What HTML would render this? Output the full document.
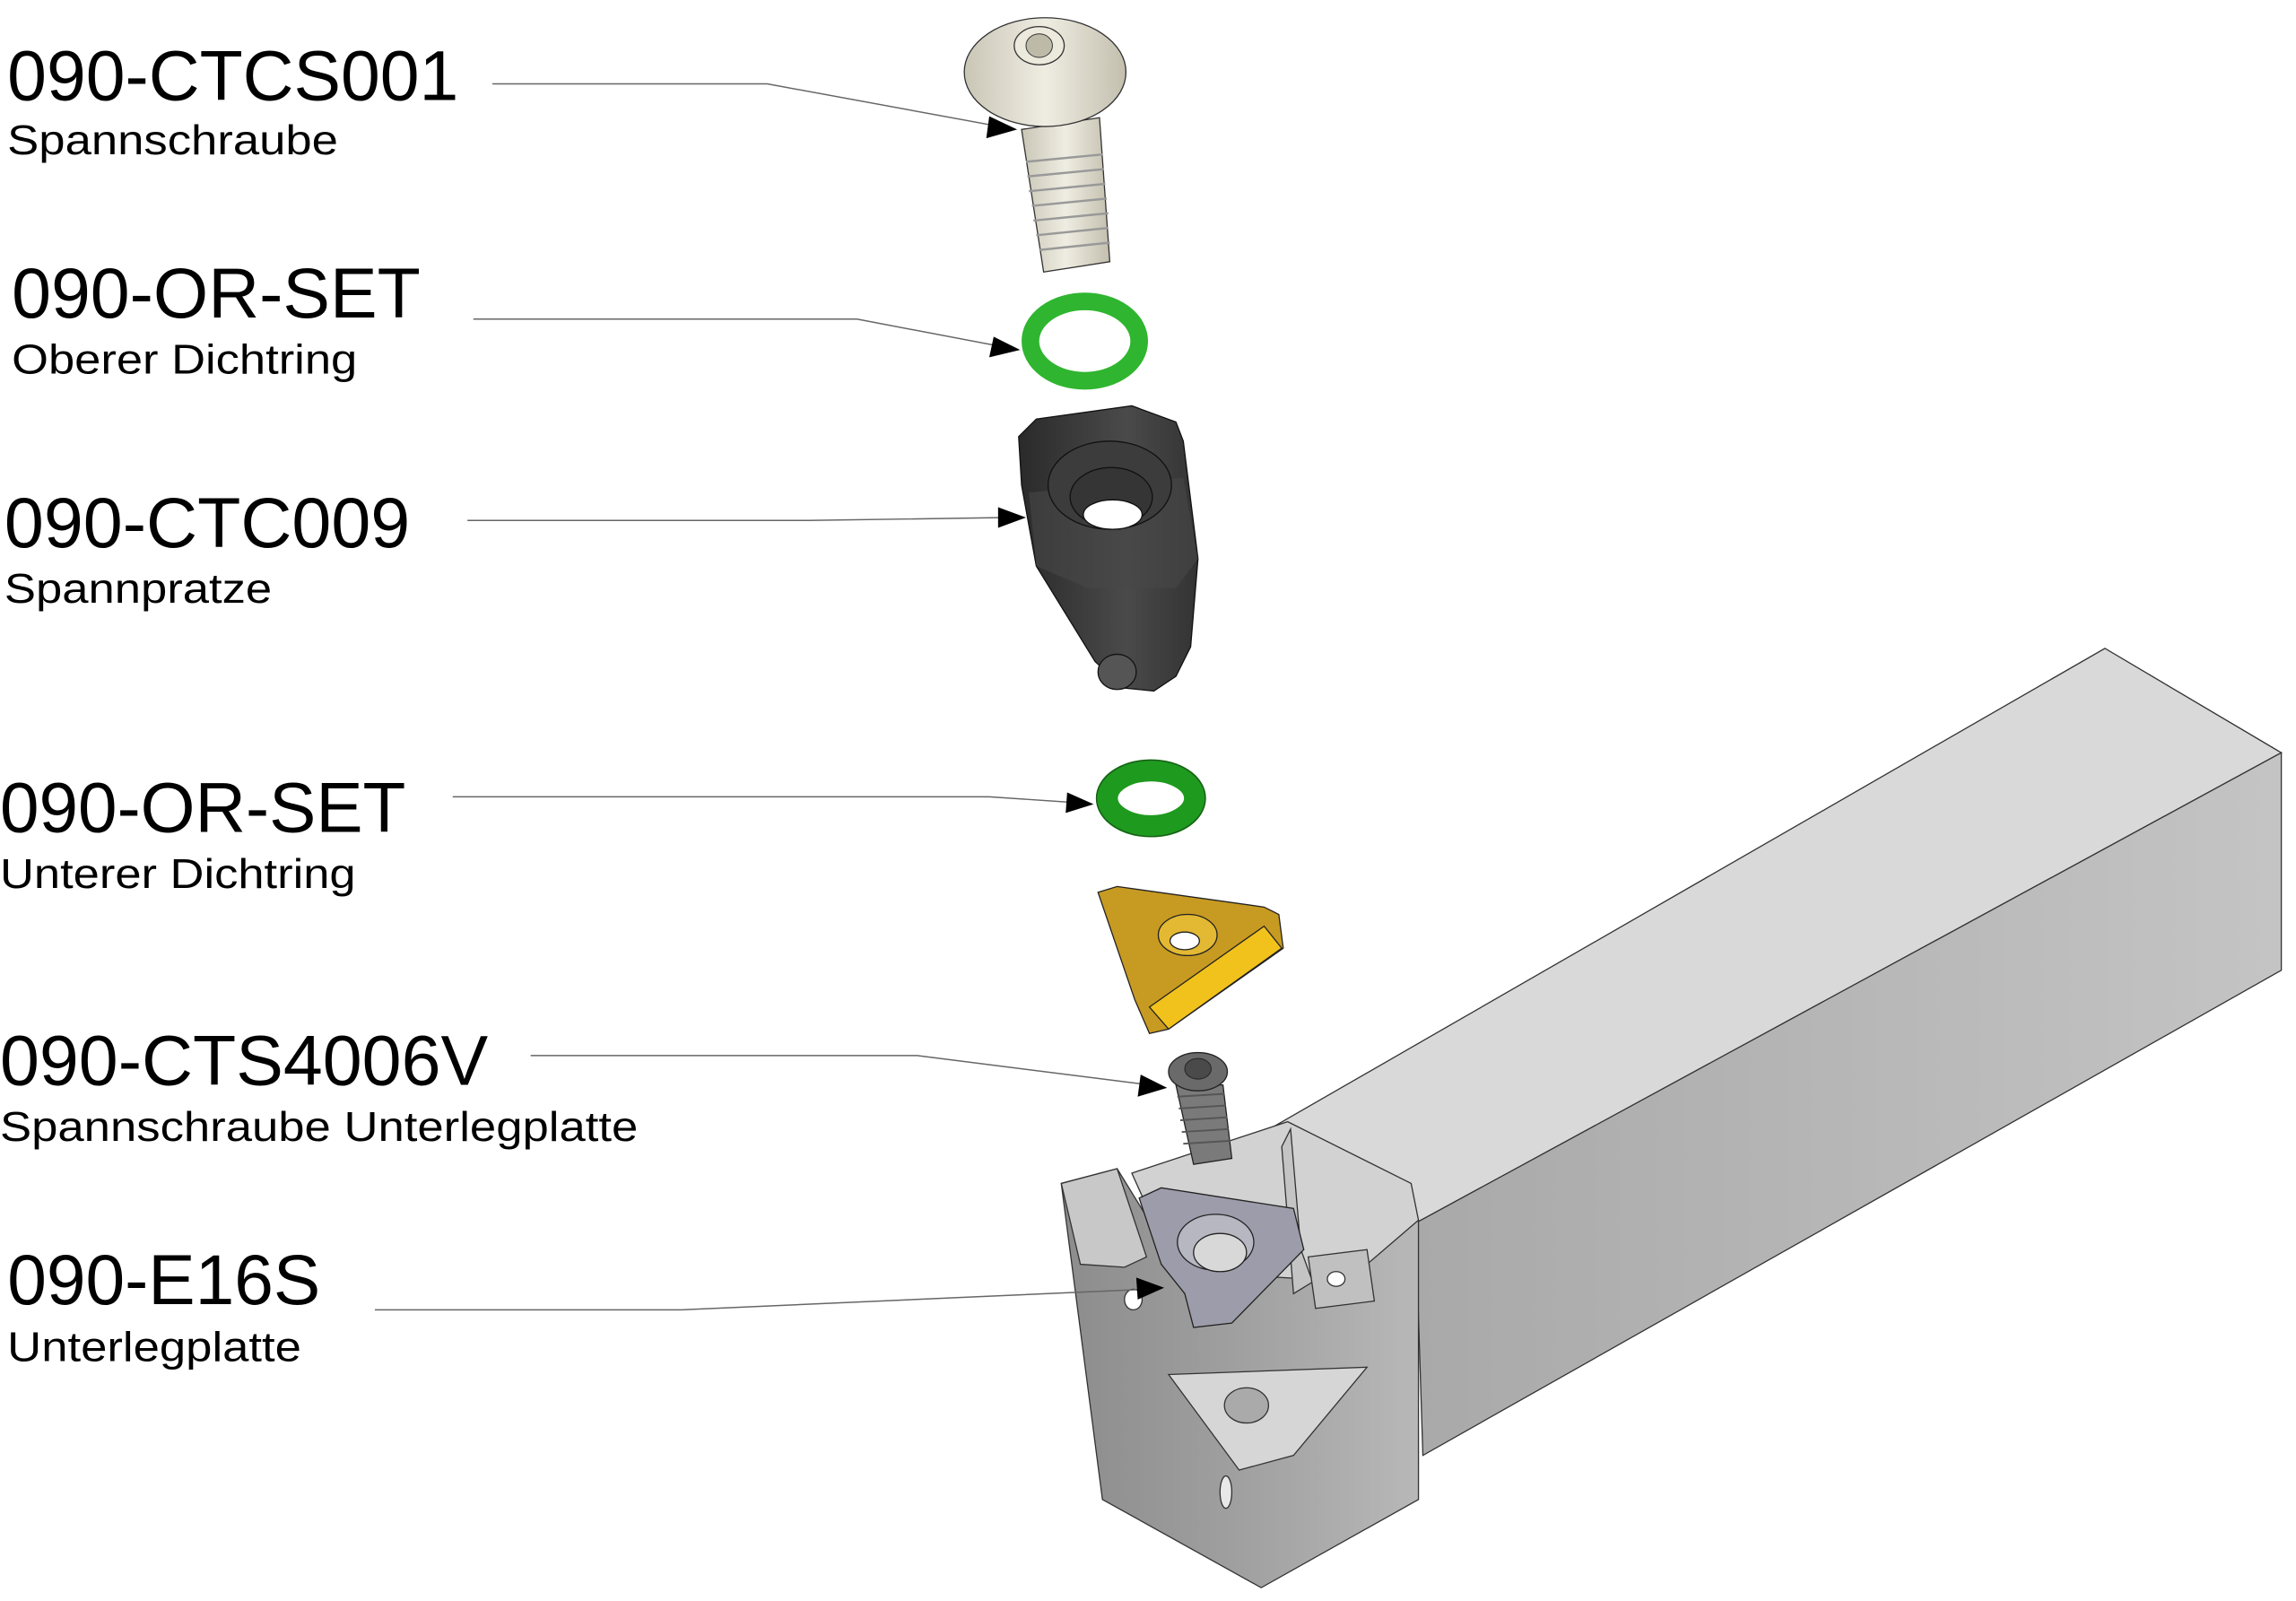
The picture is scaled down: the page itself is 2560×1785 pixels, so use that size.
<!DOCTYPE html>
<html><head><meta charset="utf-8"><style>
html,body{margin:0;padding:0;background:#fff;}
svg{display:block;}
text{font-family:"Liberation Sans",sans-serif;fill:#000;}
</style></head><body>
<svg width="2560" height="1785" viewBox="0 0 1562 1089" xmlns="http://www.w3.org/2000/svg">
<defs>
<linearGradient id="side" x1="0" y1="0" x2="1" y2="0"><stop offset="0" stop-color="#a9a9a9"/><stop offset="1" stop-color="#c4c4c4"/></linearGradient>
<linearGradient id="hold" x1="0" y1="0" x2="1" y2="0"><stop offset="0" stop-color="#8c8c8c"/><stop offset="0.5" stop-color="#a0a0a0"/><stop offset="1" stop-color="#b8b8b8"/></linearGradient>
<linearGradient id="beige" x1="0" y1="0" x2="1" y2="0"><stop offset="0" stop-color="#c9c6b6"/><stop offset="0.5" stop-color="#efede2"/><stop offset="1" stop-color="#c2bfae"/></linearGradient>
<linearGradient id="dark" x1="0" y1="0" x2="1" y2="0"><stop offset="0" stop-color="#2a2a2a"/><stop offset="0.6" stop-color="#4a4a4a"/><stop offset="1" stop-color="#333"/></linearGradient>
</defs>

<!-- bar -->
<polygon points="848,777 1432,441 1552,512 963,832" fill="#d9d9d9" stroke="#333" stroke-width="0.8"/>
<polygon points="963,832 1552,512 1552,660 968,990" fill="url(#side)" stroke="#333" stroke-width="0.8"/>

<!-- holder head -->
<polygon points="722,805 760,795 800,860 930,845 960,828 965,830 965,1020 858,1080 750,1020" fill="url(#hold)" stroke="#333" stroke-width="0.8"/>
<polygon points="770,798 876,763 960,805 965,830 930,860 890,870 800,865" fill="#d2d2d2" stroke="#333" stroke-width="0.8"/>
<polygon points="722,805 760,795 780,855 765,862 735,860" fill="#c8c8c8" stroke="#333" stroke-width="0.8"/>
<polygon points="795,935 930,930 880,990 843,1000" fill="#d6d6d6" stroke="#333" stroke-width="0.8"/>
<polygon points="872,780 878,768 885,850 893,872 880,880" fill="#c4c4c4" stroke="#333" stroke-width="0.8"/>
<polygon points="890,855 930,850 935,885 895,890" fill="#c0c0c0" stroke="#333" stroke-width="0.8"/>
<ellipse cx="909" cy="870" rx="6" ry="5" fill="#fff" stroke="#333" stroke-width="0.8"/>
<ellipse cx="771" cy="884" rx="6" ry="7" fill="#fff" stroke="#333" stroke-width="0.8"/>
<ellipse cx="848" cy="956" rx="15" ry="12" fill="#aaa" stroke="#333" stroke-width="0.8"/>
<ellipse cx="834" cy="1015" rx="4" ry="11" fill="#e8e8e8" stroke="#333" stroke-width="0.8"/>

<!-- shim -->
<polygon points="775,815 790,808 880,822 887,850 838,900 812,903 806,880 790,860" fill="#9c9cab" stroke="#222" stroke-width="0.8"/>
<ellipse cx="827" cy="845" rx="26" ry="19" fill="#b7b7c2" stroke="#222" stroke-width="0.8"/>
<ellipse cx="830" cy="852" rx="18" ry="13" fill="#d8d8d8" stroke="#222" stroke-width="0.8"/>

<!-- small screw -->
<polygon points="800,738 832,738 838,788 812,792" fill="#7a7a7a" stroke="#222" stroke-width="0.8"/>
<g stroke="#555" stroke-width="1.2">
<line x1="801" y1="746" x2="833" y2="744"/><line x1="802" y1="754" x2="834" y2="752"/><line x1="803" y1="762" x2="835" y2="760"/><line x1="804" y1="770" x2="836" y2="768"/><line x1="805" y1="778" x2="837" y2="776"/>
</g>
<ellipse cx="815" cy="729" rx="20" ry="13" fill="#6a6a6a" stroke="#222" stroke-width="0.8"/>
<ellipse cx="815" cy="727" rx="9" ry="7" fill="#4a4a4a" stroke="#222" stroke-width="0.6"/>

<!-- insert gold -->
<polygon points="747,607 760,603 860,617 870,622 873,645 795,700 782,703 772,680" fill="#c79a22" stroke="#222" stroke-width="0.8"/>
<polygon points="782,685 860,630 872,645 795,700" fill="#f2c21c" stroke="#222" stroke-width="0.8"/>
<ellipse cx="808" cy="636" rx="20" ry="14" fill="#e3b833" stroke="#222" stroke-width="0.8"/>
<ellipse cx="806" cy="640" rx="10" ry="6" fill="#fff" stroke="#222" stroke-width="0.8"/>

<!-- ring 2 -->
<ellipse cx="783" cy="543" rx="30" ry="19" fill="none" stroke="#1e9a1e" stroke-width="15"/>
<ellipse cx="783" cy="543" rx="37" ry="26" fill="none" stroke="#1a5a1a" stroke-width="0.8"/>

<!-- clamp -->
<polygon points="693,297 705,285 770,276 800,287 805,300 815,380 810,440 800,460 785,470 765,468 745,450 705,385 695,330" fill="url(#dark)" stroke="#111" stroke-width="0.8"/>
<polygon points="700,335 805,325 815,380 800,400 740,400 705,385" fill="#484848" opacity="0.6"/>
<ellipse cx="760" cy="457" rx="13" ry="12" fill="#555" stroke="#111" stroke-width="0.8"/>
<ellipse cx="755" cy="330" rx="42" ry="30" fill="#3c3c3c" stroke="#111" stroke-width="0.8"/>
<ellipse cx="756" cy="338" rx="28" ry="20" fill="#353535" stroke="#111" stroke-width="0.8"/>
<ellipse cx="757" cy="350" rx="20" ry="10" fill="#fff" stroke="#111" stroke-width="0.8"/>

<!-- ring 1 -->
<ellipse cx="738" cy="232" rx="37" ry="27" fill="none" stroke="#2fb52f" stroke-width="12"/>

<!-- screw 1 -->
<polygon points="695,88 748,80 755,178 710,185" fill="url(#beige)" stroke="#333" stroke-width="0.8"/>
<g stroke="#999" stroke-width="1.5">
<line x1="698" y1="110" x2="750" y2="105"/><line x1="699" y1="120" x2="751" y2="115"/><line x1="700" y1="130" x2="752" y2="125"/><line x1="702" y1="140" x2="753" y2="135"/><line x1="703" y1="150" x2="754" y2="145"/><line x1="705" y1="160" x2="754" y2="155"/><line x1="707" y1="170" x2="755" y2="165"/>
</g>
<ellipse cx="711" cy="49" rx="55" ry="37" fill="url(#beige)" stroke="#333" stroke-width="0.8"/>
<ellipse cx="707" cy="31" rx="17" ry="13" fill="#ece9dd" stroke="#333" stroke-width="0.8"/>
<ellipse cx="707" cy="31" rx="9" ry="8" fill="#bdbaa8" stroke="#333" stroke-width="0.6"/>

<!-- leaders -->
<g fill="none" stroke="#666" stroke-width="0.9">
<polyline points="335,57 522,57 680,86"/>
<polyline points="322,217 583,217 683,236"/>
<polyline points="318,354 550,354 685,352"/>
<polyline points="308,542 673,542 733,546"/>
<polyline points="361,718 624,718 782,738"/>
<polyline points="255,891 463,891 780,877"/>
</g>
<g fill="#000">
<polygon points="692,88 673,79 671,94"/>
<polygon points="694,238 676,229 673,243"/>
<polygon points="698,352 679,345 679,359"/>
<polygon points="744,547 726,539 725,553"/>
<polygon points="794,740 776,731 774,746"/>
<polygon points="792,876 773,869 774,884"/>
</g>

<!-- labels -->
<text x="5" y="68" font-size="48" textLength="307" lengthAdjust="spacingAndGlyphs">090-CTCS001</text>
<text x="5" y="105" font-size="28" textLength="225" lengthAdjust="spacingAndGlyphs">Spannschraube</text>
<text x="8" y="216" font-size="48" textLength="278" lengthAdjust="spacingAndGlyphs">090-OR-SET</text>
<text x="8" y="254" font-size="28" textLength="235" lengthAdjust="spacingAndGlyphs">Oberer Dichtring</text>
<text x="3" y="372" font-size="48" textLength="276" lengthAdjust="spacingAndGlyphs">090-CTC009</text>
<text x="3" y="410" font-size="28" textLength="182" lengthAdjust="spacingAndGlyphs">Spannpratze</text>
<text x="0" y="566" font-size="48" textLength="276" lengthAdjust="spacingAndGlyphs">090-OR-SET</text>
<text x="0" y="604" font-size="28" textLength="242" lengthAdjust="spacingAndGlyphs">Unterer Dichtring</text>
<text x="0" y="738" font-size="48" textLength="332" lengthAdjust="spacingAndGlyphs">090-CTS4006V</text>
<text x="0" y="776" font-size="28" textLength="434" lengthAdjust="spacingAndGlyphs">Spannschraube Unterlegplatte</text>
<text x="5" y="887" font-size="48" textLength="213" lengthAdjust="spacingAndGlyphs">090-E16S</text>
<text x="5" y="926" font-size="28" textLength="200" lengthAdjust="spacingAndGlyphs">Unterlegplatte</text>
</svg>
</body></html>
